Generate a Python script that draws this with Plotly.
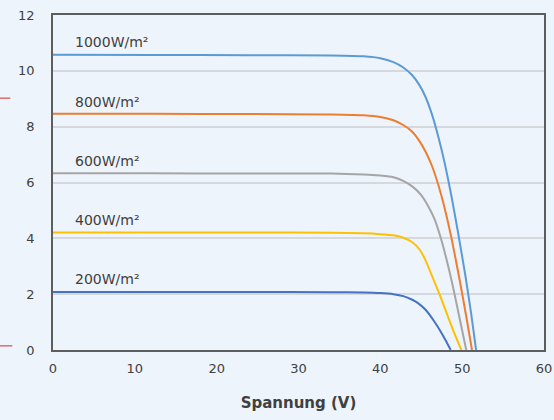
import plotly.graph_objects as go

# ---- data (V in volts, I in amps) ----
labels = ["1000W/m²", "800W/m²", "600W/m²", "400W/m²", "200W/m²"]
colors = ["#5b9bd5", "#ed7d31", "#a5a5a5", "#ffc000", "#4472c4"]

V1000 = [0, 12, 24, 34, 38, 40, 41.6, 42.8, 43.9, 44.8, 45.5, 46.3, 47.1, 47.9, 48.7, 49.5, 50.4, 51.1, 51.7]
I1000 = [10.58, 10.57, 10.56, 10.55, 10.52, 10.45, 10.31, 10.12, 9.84, 9.48, 9.08, 8.45, 7.62, 6.65, 5.5, 4.2, 2.65, 1.3, 0]

V800 = [0, 12, 24, 34, 38, 40, 41.6, 42.8, 43.9, 44.7, 45.5, 46.3, 47.1, 47.8, 48.7, 49.7, 50.5, 51.2]
I800 = [8.46, 8.46, 8.45, 8.44, 8.41, 8.35, 8.23, 8.06, 7.82, 7.52, 7.12, 6.6, 5.9, 5.15, 4.0, 2.5, 1.2, 0]

V600 = [0, 12, 24, 34, 38, 40, 41.6, 42.8, 43.9, 45.0, 45.8, 46.6, 47.4, 48.7, 49.7, 50.5]
I600 = [6.33, 6.33, 6.32, 6.32, 6.29, 6.25, 6.19, 6.06, 5.86, 5.55, 5.18, 4.71, 4.0, 2.5, 1.12, 0]

V400 = [0, 12, 24, 34, 38, 40, 41.6, 42.8, 43.9, 44.8, 45.5, 46.6, 47.3, 48.0, 48.9, 49.9]
I400 = [4.21, 4.21, 4.21, 4.20, 4.18, 4.15, 4.11, 4.02, 3.86, 3.60, 3.23, 2.45, 1.95, 1.4, 0.7, 0]

V200 = [0, 12, 24, 34, 38, 40, 41.6, 42.8, 43.9, 44.6, 45.5, 46.6, 47.6, 48.1, 48.6]
I200 = [2.08, 2.08, 2.08, 2.07, 2.06, 2.04, 2.0, 1.93, 1.80, 1.68, 1.45, 1.02, 0.55, 0.28, 0]

label_x = 2.4
label_y = [11.02, 8.9, 6.78, 4.67, 2.54]

x_ticks = [0, 10, 20, 30, 40, 50, 60]
y_ticks = [0, 2, 4, 6, 8, 10, 12]
x_title = "Spannung (V)"

series = [(V1000, I1000), (V800, I800), (V600, I600), (V400, I400), (V200, I200)]

BG = "#eef4fc"
TXT = "#404040"

fig = go.Figure()
for (vx, iy), c, name in zip(series, colors, labels):
    fig.add_trace(go.Scatter(x=vx, y=iy, mode="lines", name=name,
                             line=dict(color=c, width=2, shape="spline", smoothing=0.5),
                             showlegend=False, hoverinfo="skip", cliponaxis=True))

for name, ly in zip(labels, label_y):
    fig.add_annotation(x=label_x, y=ly, text=name, showarrow=False,
                       xanchor="left", yanchor="middle",
                       font=dict(family="DejaVu Sans", size=14, color=TXT))

# small red marks at the left edge (decoration in the reference)
fig.add_shape(type="line", xref="paper", yref="y", x0=-0.108, x1=-0.087, y0=9.02, y1=9.02,
              line=dict(color="#e06a6a", width=1.5))
fig.add_shape(type="line", xref="paper", yref="y", x0=-0.108, x1=-0.083, y0=0.15, y1=0.15,
              line=dict(color="#e06a6a", width=1.5))

fig.update_layout(
    width=554, height=420,
    margin=dict(l=53, r=10, t=15, b=70, autoexpand=False),
    paper_bgcolor=BG, plot_bgcolor=BG,
    font=dict(family="DejaVu Sans", size=13, color=TXT),
)
fig.update_xaxes(range=[0, 60], tickvals=x_ticks, showgrid=False, zeroline=False,
                 showline=True, mirror=True, linecolor="#5e5e5e", linewidth=1.6,
                 ticks="", ticklabelstandoff=6, automargin=False,
                 title=dict(text="<b>" + x_title + "</b>", font=dict(size=15, color=TXT), standoff=22))
fig.update_yaxes(range=[0, 12], tickvals=y_ticks, showgrid=True, gridcolor="#d5d9de", gridwidth=1.5,
                 zeroline=False, showline=True, mirror=True, linecolor="#5e5e5e", linewidth=1.6,
                 ticks="", ticklabelstandoff=14, automargin=False)

fig.write_html("out.html", config={"displayModeBar": False},
               post_script="document.body.style.margin='0';document.body.style.background='" + BG + "';")
